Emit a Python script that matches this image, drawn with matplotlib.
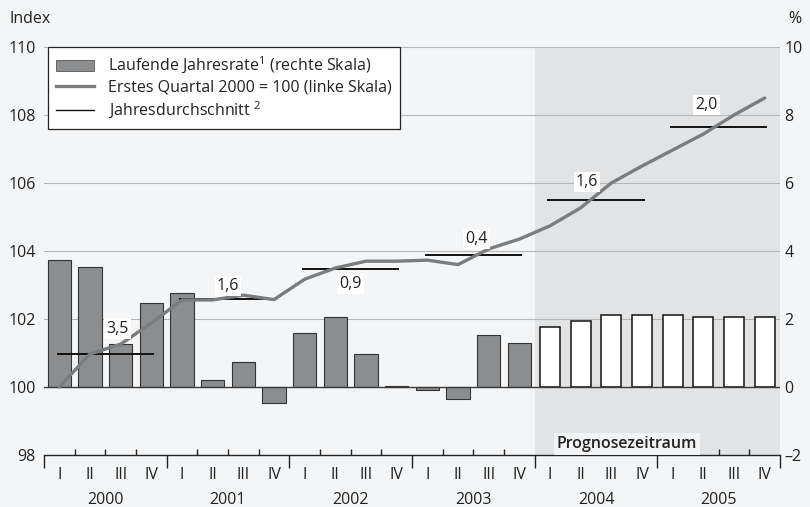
import matplotlib.pyplot as plt
from matplotlib.patches import Patch
from matplotlib.lines import Line2D

plt.rcParams['font.family'] = ['Open Sans', 'DejaVu Sans']

# data
years = ['2000', '2001', '2002', '2003', '2004', '2005']
quarters = ['I', 'II', 'III', 'IV']
# running annual rate in % (right scale)
rate = [3.74, 3.53, 1.26, 2.47,
        2.76, 0.20, 0.73, -0.47,
        1.59, 2.06, 0.97, 0.02,
        -0.08, -0.35, 1.53, 1.29,
        1.76, 1.94, 2.12, 2.12,
        2.12, 2.06, 2.06, 2.06]
# index, first quarter 2000 = 100 (left scale)
index = [100.0, 100.97, 101.26, 101.88,
         102.56, 102.56, 102.70, 102.57,
         103.17, 103.50, 103.70, 103.70,
         103.73, 103.60, 104.06, 104.35,
         104.74, 105.27, 106.00, 106.50,
         106.97, 107.44, 108.00, 108.50]
# annual averages (index level) and their growth labels
avg_level = [100.97, 102.58, 103.47, 103.88, 105.50, 107.65]
avg_label = ['3,5', '1,6', '0,9', '0,4', '1,6', '2,0']
n_forecast = 8

bg = '#f4f5f6'
fs = 11.5

fig = plt.figure(figsize=(8.1, 5.07), dpi=100, facecolor=bg)
ax = fig.add_axes([0.0543, 0.1026, 0.9087, 0.8047])
ax.set_facecolor(bg)
ax2 = ax.twinx()

n = len(rate)
x = list(range(n))
n_hist = n - n_forecast

# forecast shading
ax.axvspan(n_hist - 0.5, n - 0.5, color='#e2e3e5', zorder=0, lw=0)

# grid
for g in [2, 4, 6, 8, 10]:
    ax.axhline(g, color='#b5b6b8', lw=0.8, zorder=1)
ax.axhline(0, color='#3a3a3a', lw=1.0, zorder=3)

ax.bar(x[:n_hist], rate[:n_hist], width=0.76, color='#8c8d8f',
       edgecolor='#333333', lw=0.8, zorder=2)
ax.bar(x[n_hist:], rate[n_hist:], width=0.66, color='white',
       edgecolor='#111111', lw=1.1, zorder=2)

ax.set_xlim(-0.5, n - 0.5)
ax.set_ylim(-2, 10)
ax.yaxis.tick_right()
ax.set_yticks([-2, 0, 2, 4, 6, 8, 10])
ax.set_yticklabels(['\u20132', '0', '2', '4', '6', '8', '10'])
ax.tick_params(axis='y', length=0, pad=3, labelsize=fs, colors='#222222')

for s in ['top', 'left', 'right']:
    ax.spines[s].set_visible(False)
ax.spines['bottom'].set_color('#222222')
ax.spines['bottom'].set_linewidth(1.0)

# quarter labels and ticks
ax.set_xticks(x)
ax.set_xticklabels(quarters * len(years))
ax.set_xticks([k - 0.5 for k in range(n + 1) if k % 4], minor=True)
ax.tick_params(axis='x', which='major', length=0, pad=9, labelsize=fs,
               colors='#222222')
ax.tick_params(axis='x', which='minor', direction='in', length=4,
               width=1, color='#222222')

sec = ax.secondary_xaxis('bottom')
sec.set_xticks([k - 0.5 for k in range(0, n + 1, 4)])
sec.set_xticklabels([])
sec.set_xticks([4 * i + 1.5 for i in range(len(years))], minor=True)
sec.set_xticklabels(years, minor=True)
sec.tick_params(axis='x', which='major', direction='out', length=9,
                width=1, color='#222222')
sec.tick_params(axis='x', which='minor', length=0, pad=27, labelsize=fs,
                colors='#222222')
sec.spines['bottom'].set_visible(False)

ax.text(n - 5.5, -1.68, 'Prognosezeitraum', ha='center', va='center',
        fontsize=fs, fontweight='semibold', color='#222222', zorder=5,
        bbox=dict(facecolor='#f2f3f4', edgecolor='none', pad=2))

# index line on the left scale
ax2.set_ylim(98, 110)
ax2.yaxis.tick_left()
ax2.set_yticks([98, 100, 102, 104, 106, 108, 110])
ax2.tick_params(axis='y', length=0, pad=6, labelsize=fs, colors='#222222')
for s in ['top', 'left', 'right', 'bottom']:
    ax2.spines[s].set_visible(False)

ax2.plot(x, index, color='#7b7c7e', lw=2.4, zorder=4,
         solid_joinstyle='round', solid_capstyle='round')

lbl_dy = [0.75, 0.40, -0.44, 0.47, 0.53, 0.65]
lbl_dx = [0.4, 0.0, 0.0, 0.1, -0.3, -0.4]
for i, (lev, lab) in enumerate(zip(avg_level, avg_label)):
    ax2.plot([4 * i - 0.05, 4 * i + 3.05], [lev, lev], color='#111111',
             lw=1.4, zorder=3)
    ax2.text(4 * i + 1.5 + lbl_dx[i], lev + lbl_dy[i], lab, ha='center',
             va='center', fontsize=fs, color='#222222', zorder=6,
             bbox=dict(facecolor='white', edgecolor='none', pad=1.5))

fig.text(0.012, 0.962, 'Index', fontsize=fs, color='#222222', va='center')
fig.text(0.981, 0.962, '%', fontsize=fs, color='#222222', va='center',
         ha='center')

handles = [Patch(facecolor='#8c8d8f', edgecolor='#555555', lw=0.6),
           Line2D([], [], color='#7b7c7e', lw=2.4),
           Line2D([], [], color='#111111', lw=1.0)]
labels = ['Laufende Jahresrate$^{\\mathregular{1}}$ (rechte Skala)',
          'Erstes Quartal 2000 = 100 (linke Skala)',
          'Jahresdurchschnitt $^{\\mathregular{2}}$']
leg = ax2.legend(handles, labels, loc='upper left',
                 bbox_to_anchor=(0.005, 1.0), fontsize=fs, frameon=True,
                 fancybox=False, framealpha=1, edgecolor='#222222',
                 handlelength=2.4, handleheight=0.7, borderpad=0.5,
                 labelspacing=0.25, handletextpad=0.9, borderaxespad=0)
leg.get_frame().set_linewidth(0.9)
leg.set_zorder(10)
for t in leg.get_texts():
    t.set_color('#222222')

fig.savefig('out.png', dpi=100, facecolor=bg)
